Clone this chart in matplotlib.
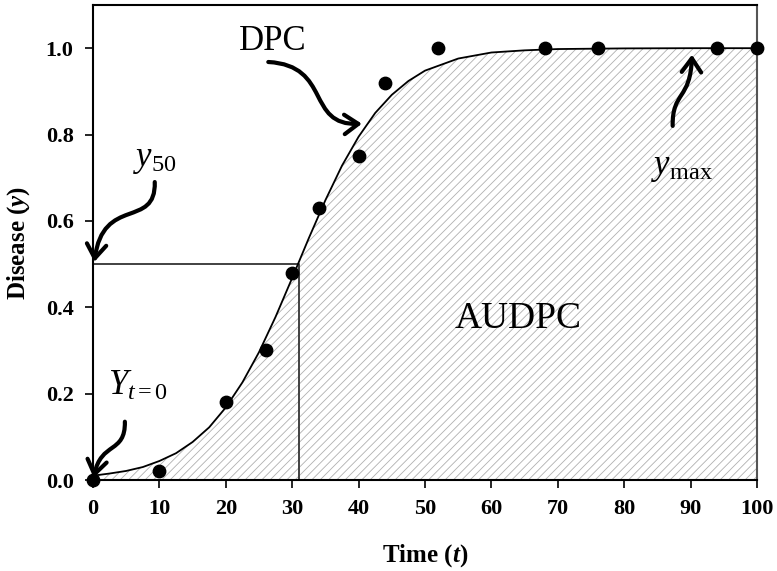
import matplotlib
matplotlib.use("Agg")
import matplotlib.pyplot as plt
from matplotlib.path import Path
from matplotlib.patches import FancyArrowPatch

plt.rcParams['font.family'] = ['Liberation Serif', 'DejaVu Serif']
plt.rcParams['mathtext.fontset'] = 'custom'
plt.rcParams['mathtext.rm'] = 'Liberation Serif'
plt.rcParams['mathtext.it'] = 'Liberation Serif:italic'
plt.rcParams['mathtext.bf'] = 'Liberation Serif:bold:italic'
plt.rcParams['hatch.linewidth'] = 0.6

# observed disease severity
obs_t = [0, 10, 20, 26, 30, 34, 40, 44, 52, 68, 76, 94, 100]
obs_y = [0.0, 0.02, 0.18, 0.30, 0.48, 0.63, 0.75, 0.92, 1.0, 1.0, 1.0, 1.0, 1.0]

# fitted disease progress curve
dpc_t = [0, 2.5, 5, 7.5, 10, 12.5, 15, 17.5, 20, 22.5, 25, 27.5, 30, 32.5, 35,
         37.5, 40, 42.5, 45, 47.5, 50, 55, 60, 65, 70, 80, 90, 100]
dpc_y = [0.010, 0.015, 0.021, 0.030, 0.044, 0.062, 0.088, 0.122, 0.168, 0.226,
         0.296, 0.378, 0.468, 0.560, 0.648, 0.728, 0.795, 0.850, 0.892, 0.924,
         0.948, 0.976, 0.990, 0.995, 0.998, 0.9995, 1.0, 1.0]

t50 = 31
y50 = 0.5

fig = plt.figure(figsize=(7.77, 5.71), dpi=100)
ax = fig.add_axes([93/777, 1 - 480/571, (757-93)/777, (480-5)/571])

# area under the curve
ax.fill_between(dpc_t, dpc_y, 0, facecolor='white', edgecolor='#b0b0b0',
                hatch='////', linewidth=0, zorder=1)
ax.plot(dpc_t, dpc_y, color='black', lw=1.3, zorder=3)
ax.plot([0, t50, t50], [y50, y50, 0], color='#333333', lw=1.3, zorder=2)
ax.scatter(obs_t, obs_y, s=80, color='black', zorder=4, clip_on=False)

ax.set_xlim(0, 100)
ax.set_ylim(0, 1.1)
ax.set_xticks(range(0, 101, 10))
ax.set_yticks([0.0, 0.2, 0.4, 0.6, 0.8, 1.0])
ax.set_yticklabels(['0.0', '0.2', '0.4', '0.6', '0.8', '1.0'])
ax.tick_params(direction='out', length=6, width=1.2, labelsize=16, pad=8)
for lab in ax.get_xticklabels() + ax.get_yticklabels():
    lab.set_fontweight('bold')
for sp in ax.spines.values():
    sp.set_linewidth(1.5)
ax.spines['right'].set_color('#555555')

ax.set_xlabel(r'Time ($\mathbf{t}$)', fontsize=18, fontweight='bold', labelpad=16)
ax.set_ylabel(r'Disease ($\mathbf{y}$)', fontsize=18, fontweight='bold', labelpad=10)

# labels
ax.text(27, 1.016, 'DPC', fontsize=25, ha='center', va='center')
ax.text(54.5, 0.353, 'AUDPC', fontsize=27, ha='left', va='baseline')
ax.text(6.0, 0.726, r'$y_{50}$', fontsize=25, ha='left', va='baseline')
ax.text(2.2, 0.197, r'$Y_{t=0}$', fontsize=25, ha='left', va='baseline')
ax.text(84.0, 0.708, r'$y_{\mathrm{max}}$', fontsize=25, ha='left', va='baseline')

# curved pointer arrows
arrows = [
    [(26.4, 0.968), (36, 0.96), (32, 0.82), (40.5, 0.825)],
    [(9.3, 0.69), (9.5, 0.58), (1.5, 0.66), (0.2, 0.505)],
    [(4.8, 0.135), (4.9, 0.06), (1.2, 0.09), (0.1, 0.005)],
    [(87.3, 0.82), (87.2, 0.90), (90, 0.88), (90.2, 0.985)],
]
for pts in arrows:
    path = Path(pts, [Path.MOVETO, Path.CURVE4, Path.CURVE4, Path.CURVE4])
    arr = FancyArrowPatch(path=path, arrowstyle='->,head_length=0.5,head_width=0.35',
                          mutation_scale=20, lw=3, color='black', zorder=5,
                          clip_on=False)
    ax.add_patch(arr)

fig.savefig('out.png', dpi=100)
